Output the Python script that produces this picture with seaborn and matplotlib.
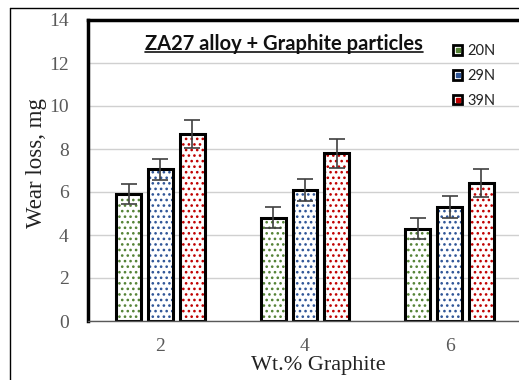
import matplotlib
matplotlib.use("Agg")
import matplotlib.pyplot as plt
from matplotlib.lines import Line2D
from matplotlib.patches import Patch
import seaborn as sns
import pandas as pd
import numpy as np

categories = ["2", "4", "6"]
loads = ["20N", "29N", "39N"]
wear_20N = [5.9, 4.8, 4.3]
wear_29N = [7.05, 6.1, 5.3]
wear_39N = [8.7, 7.8, 6.4]
err_20N = [0.48, 0.48, 0.47]
err_29N = [0.49, 0.52, 0.52]
err_39N = [0.67, 0.67, 0.65]
colors = ["#548235", "#2f5597", "#c00000"]
y_ticks = [0, 2, 4, 6, 8, 10, 12, 14]

df = pd.DataFrame({
    "Graphite": categories * 3,
    "Load": [l for l in loads for _ in categories],
    "Wear": wear_20N + wear_29N + wear_39N,
    "Err": err_20N + err_29N + err_39N,
})

sns.set_style("white")
plt.rcParams["hatch.linewidth"] = 1.1

fig = plt.figure(figsize=(5.19, 3.80), dpi=100)
ax = fig.add_axes([88/519, 1-321/380, 434/519, 301/380])

ax.set_axisbelow(True)
ax.yaxis.grid(True, color="#d0d0d0", linewidth=1.0)

# hatched fill layer
sns.barplot(data=df, x="Graphite", y="Wear", hue="Load", order=categories,
            hue_order=loads, palette=colors, width=0.66, gap=0.22,
            errorbar=None, ax=ax, legend=False)
n = len(categories)
for i, p in enumerate(ax.patches):
    c = colors[i // n]
    p.set_facecolor("white")
    p.set_edgecolor(c)
    p.set_hatch("...")
    p.set_linewidth(0)
fill_patches = list(ax.patches)

# outline layer
sns.barplot(data=df, x="Graphite", y="Wear", hue="Load", order=categories,
            hue_order=loads, width=0.66, gap=0.22, fill=False,
            errorbar=None, ax=ax, legend=False, color="black",
            edgecolor="black", linewidth=2.2)
for p in ax.patches[len(fill_patches):]:
    p.set_edgecolor("black")
    p.set_linewidth(2.2)

# error bars from patch centres
for i, p in enumerate(fill_patches):
    xc = p.get_x() + p.get_width() / 2
    ax.errorbar(xc, df["Wear"].iloc[i], yerr=df["Err"].iloc[i], fmt="none",
                ecolor="#404040", elinewidth=1.2, capsize=5.5, capthick=1.2, zorder=5)

ax.set_xlim(-0.5, 2.5)
ax.set_ylim(0, 14)
ax.set_yticks(y_ticks)
ax.set_yticklabels([str(t) for t in y_ticks])

serif = "Liberation Serif"
ax.tick_params(axis="both", length=0, labelsize=14, labelcolor="#595959")
ax.tick_params(axis="y", pad=14)
ax.tick_params(axis="x", pad=12)
for lab in ax.get_xticklabels() + ax.get_yticklabels():
    lab.set_fontfamily(serif)

ax.set_xlabel("Wt.% Graphite", fontfamily=serif, fontsize=16, color="#222222")
ax.set_ylabel("Wear loss, mg", fontfamily=serif, fontsize=16.5, color="#222222")
ax.xaxis.set_label_coords((318 - 88) / 434, -(356 - 321) / 301)
ax.yaxis.set_label_coords(-(88 - 47) / 434, (321 - 163) / 301)

for s in ["left", "top"]:
    ax.spines[s].set_color("black")
    ax.spines[s].set_linewidth(2.5)
ax.spines["right"].set_visible(False)
ax.spines["bottom"].set_color("#595959")
ax.spines["bottom"].set_linewidth(1.0)

# title with underline
title = fig.text(284/519, 1-44/380, "ZA27 alloy + Graphite particles", ha="center",
                 va="center", fontsize=14.5, fontweight="bold", family="Lato", color="#111111")
fig.canvas.draw()
bb = title.get_window_extent().transformed(fig.transFigure.inverted())
fig.add_artist(Line2D([bb.x0, bb.x1], [bb.y0 + 0.004, bb.y0 + 0.004],
                      transform=fig.transFigure, color="#111111", linewidth=1.2))

# legend
handles = [(Patch(facecolor="white", edgecolor="black", linewidth=2.0),
            Line2D([], [], marker="s", markersize=2.2, color=c, linestyle=""))
           for c in colors]
leg = fig.legend(handles, loads, loc="upper left", bbox_to_anchor=(440/519, 1-31/380),
                 frameon=False, prop={"family": "Lato", "size": 10.5},
                 handlelength=0.6, handleheight=0.6, handletextpad=0.35,
                 labelspacing=0.75, labelcolor="#222222")

# outer frame
fig.add_artist(Line2D([10/519, 10/519], [0, 1-8/380], transform=fig.transFigure,
                      color="black", linewidth=1.0))
fig.add_artist(Line2D([10/519, 1], [1-8/380, 1-8/380], transform=fig.transFigure,
                      color="black", linewidth=1.0))

fig.savefig("out.png", dpi=100)
